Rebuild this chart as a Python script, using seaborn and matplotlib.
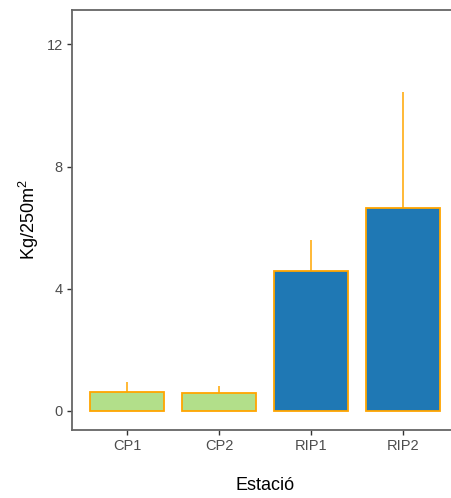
import matplotlib
matplotlib.use("Agg")
import matplotlib.pyplot as plt
import seaborn as sns
import pandas as pd
import numpy as np

stations = ["CP1", "CP2", "RIP1", "RIP2"]
means = [0.60, 0.57, 4.57, 6.65]
upper = [0.94, 0.82, 5.60, 10.43]
fill_colors = ["#b2df8a", "#b2df8a", "#1f78b4", "#1f78b4"]
y_ticks = [0, 4, 8, 12]

sns.set_theme(style="white")
plt.rcParams['font.family'] = ['Liberation Sans', 'DejaVu Sans']
plt.rcParams['mathtext.fontset'] = 'custom'
plt.rcParams['mathtext.rm'] = 'Liberation Sans'
plt.rcParams['mathtext.it'] = 'Liberation Sans'

df = pd.DataFrame({"Estacio": stations, "val": means})

fig = plt.figure(figsize=(4.51, 4.98), dpi=100)
ax = fig.add_axes([72/451, 1-430/498, 386/451, 420/498])

sns.barplot(data=df, x="Estacio", y="val", hue="Estacio", palette=fill_colors,
            legend=False, width=0.8, edgecolor="#FFA500", linewidth=1.3,
            saturation=1, errorbar=None, ax=ax, zorder=2)

err = np.array(upper) - np.array(means)
ax.errorbar(range(len(stations)), means, yerr=[np.zeros(len(err)), err],
            fmt="none", ecolor="#FFA500", elinewidth=1.1, capsize=0, zorder=1)

ax.set_xlim(-0.6, 3.6)
ax.set_ylim(-0.63, 13.13)
ax.set_yticks(y_ticks)
ax.set_yticklabels([str(t) for t in y_ticks])

for s in ax.spines.values():
    s.set_color("#666666")
    s.set_linewidth(1.3)
    s.set_visible(True)

ax.tick_params(axis="both", which="major", length=3.5, width=1, color="#333333",
               labelsize=10.5, labelcolor="#4d4d4d", pad=3, bottom=True, left=True)

ax.set_xlabel("Estació", fontsize=13, color="black", labelpad=17)
ax.set_ylabel("Kg/250m$^\\mathregular{2}$", fontsize=13, color="black", labelpad=4)

fig.savefig("out.png", dpi=100)
